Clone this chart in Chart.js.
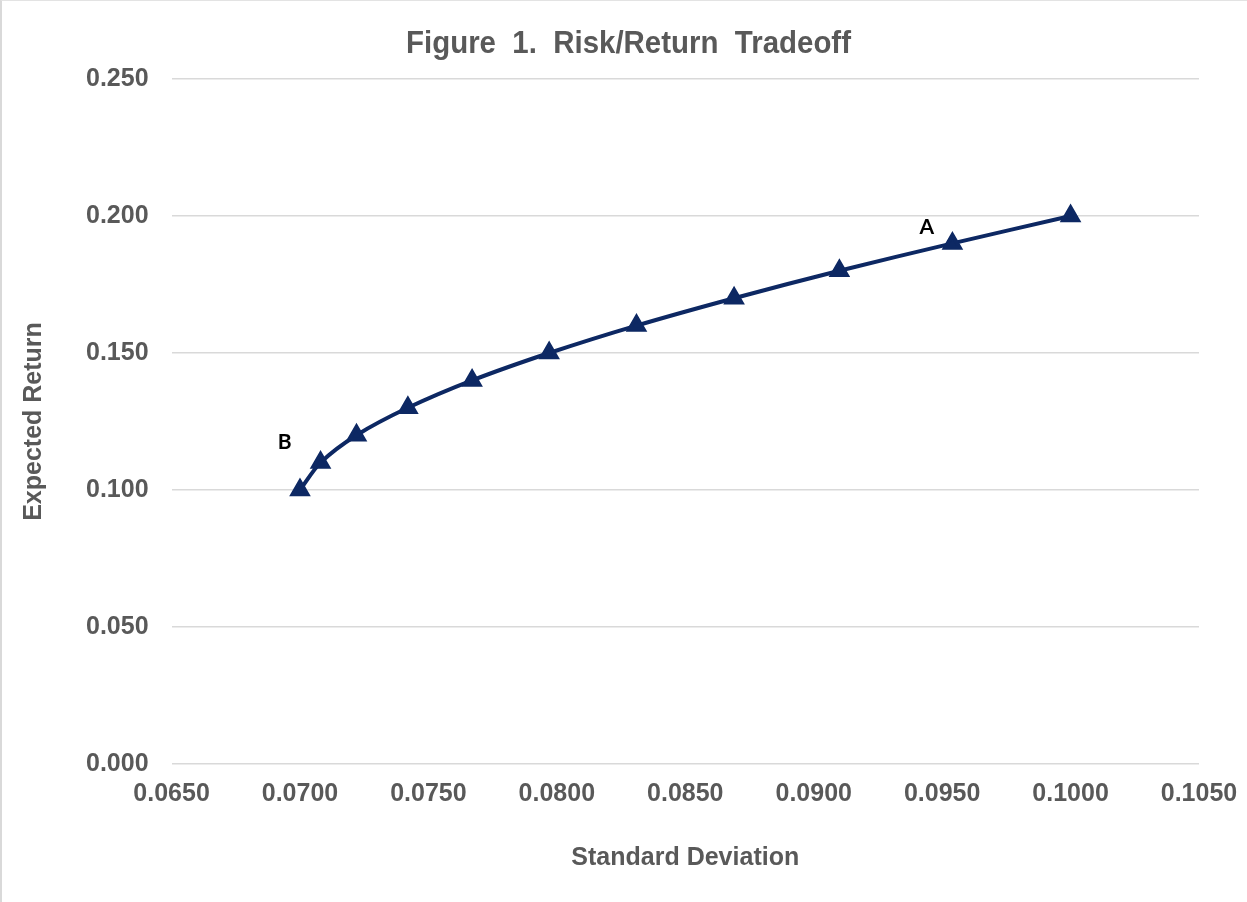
<!DOCTYPE html>
<html>
<head>
<meta charset="utf-8">
<title>Risk/Return Tradeoff</title>
<script src="https://cdn.jsdelivr.net/npm/chart.js@4.4.0/dist/chart.umd.min.js"></script>
<style>
    html, body { margin: 0; padding: 0; background: #ffffff; }
    #wrap {
        position: relative;
        width: 1247px;
        height: 902px;
        box-sizing: border-box;
        border-left: 2px solid #d9d9d9;
        border-top: 1px solid #e3e3e3;
    }
    #chart-title {
        position: absolute;
        left: 0;
        width: 1253px;
        top: 23px;
        text-align: center;
        font: bold 32px "Liberation Sans", Arial, sans-serif;
        line-height: 36px;
        white-space: pre;
        color: #595959;
        transform: scaleX(0.92);
        transform-origin: 50% 50%;
    }
    #frontier-chart { position: absolute; left: 0; top: 0; }
</style>
</head>
<body>
<div id="wrap">
    <canvas id="frontier-chart"></canvas>
    <div id="chart-title">Figure  1.  Risk/Return  Tradeoff</div>
</div>
<script>
// Values
const stdDev = [0.0700, 0.0708, 0.0722, 0.0742, 0.0767, 0.0797, 0.0831, 0.0869, 0.0910, 0.0954, 0.1000];
const expReturn = [0.100, 0.110, 0.120, 0.130, 0.140, 0.150, 0.160, 0.170, 0.180, 0.190, 0.200];

const xTicks = [0.0650, 0.0700, 0.0750, 0.0800, 0.0850, 0.0900, 0.0950, 0.1000, 0.1050];
const yTicks = [0.000, 0.050, 0.100, 0.150, 0.200, 0.250];

// point letters (A = top end, B = bottom end), placed in data units
const markLabels = ["A", "B"];
const markX = [0.0944, 0.0694];
const markY = [0.1958, 0.1175];

document.addEventListener("DOMContentLoaded", function() {
    const canvas = document.getElementById("frontier-chart");
    canvas.style.width = "1245px";
    canvas.style.height = "901px";
    const ctx = canvas.getContext("2d");
    const navy = "#0d2863";
    const grey = "#595959";
    const tickFont = { family: "'Liberation Sans', Arial, sans-serif", size: 25, weight: "bold" };

    // draws the A / B letters through the chart's own scales
    const letterPlugin = {
        id: "letters",
        afterDatasetsDraw(chart) {
            const c = chart.ctx;
            const xs = chart.scales.x;
            const ys = chart.scales.y;
            c.save();
            c.fillStyle = "#000000";
            c.font = "bold 21px Lato, 'Open Sans', sans-serif";
            c.textAlign = "center";
            c.textBaseline = "middle";
            for (let i = 0; i < markLabels.length; i++) {
                c.fillText(markLabels[i], xs.getPixelForValue(markX[i]), ys.getPixelForValue(markY[i]));
            }
            c.restore();
        }
    };

    new Chart(ctx, {
        type: "line",
        data: {
            datasets: [{
                label: "Frontier",
                data: stdDev.map((x, i) => ({ x: x, y: expReturn[i] })),
                borderColor: navy,
                backgroundColor: navy,
                borderWidth: 4,
                tension: 0.3,
                pointStyle: "triangle",
                pointRadius: 8.5,
                pointHoverRadius: 8.5,
                fill: false
            }]
        },
        options: {
            responsive: false,
            animation: false,
            layout: {
                padding: { left: 0, right: 48, top: 78, bottom: 0 }
            },
            plugins: {
                legend: { display: false },
                tooltip: { enabled: false },
                title: { display: false }
            },
            scales: {
                x: {
                    type: "linear",
                    min: xTicks[0],
                    max: xTicks[xTicks.length - 1],
                    afterBuildTicks: function(scale) {
                        scale.ticks = xTicks.map(v => ({ value: v }));
                    },
                    grid: { display: false },
                    border: { display: false },
                    ticks: {
                        color: grey,
                        padding: 7,
                        font: tickFont,
                        callback: function(v) { return Number(v).toFixed(4); }
                    },
                    title: {
                        display: true,
                        text: "Standard Deviation",
                        color: grey,
                        font: tickFont,
                        padding: { top: 27, bottom: 29 }
                    }
                },
                y: {
                    type: "linear",
                    min: yTicks[0],
                    max: yTicks[yTicks.length - 1],
                    afterBuildTicks: function(scale) {
                        scale.ticks = yTicks.map(v => ({ value: v }));
                    },
                    grid: { color: "#d9d9d9", lineWidth: 1.5, drawTicks: false },
                    border: { display: false },
                    ticks: {
                        color: grey,
                        padding: 23,
                        font: tickFont,
                        callback: function(v) { return Number(v).toFixed(3); }
                    },
                    title: {
                        display: true,
                        text: "Expected Return",
                        color: grey,
                        font: tickFont,
                        padding: { top: 17, bottom: 14 }
                    }
                }
            }
        },
        plugins: [letterPlugin]
    });
});
</script>
</body>
</html>
